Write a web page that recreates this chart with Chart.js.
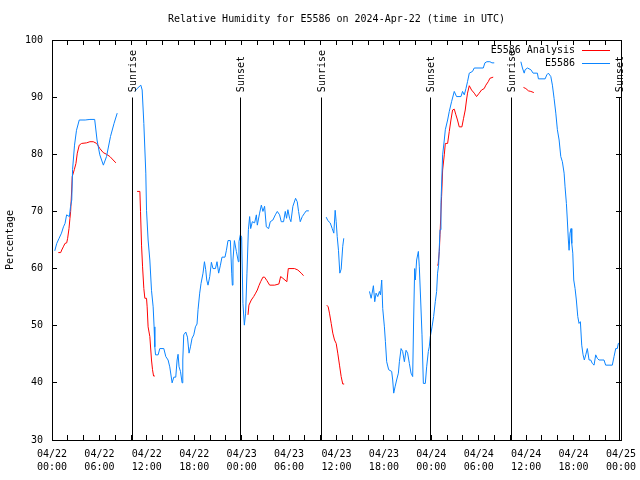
<!DOCTYPE html>
<html>
<head>
<meta charset="utf-8">
<script src="https://cdn.jsdelivr.net/npm/chart.js@4.4.1/dist/chart.umd.min.js"></script>
<style>
  html, body { margin: 0; padding: 0; background: #fff; }
  #wrap { width: 640px; height: 480px; }
</style>
</head>
<body>
<div id="wrap"><canvas id="rhChart" width="640" height="480"></canvas></div>
<script>
// ================== Data (x = hours since 04/22 00:00 UTC) ==================
const obsHours = [
  0.35, 0.6, 0.9, 1.2, 1.45, 1.65, 1.85, 2.2, 2.35, 2.5, 2.6, 2.85, 3.1, 3.45, 4.2, 4.8, 5.4,
  5.7, 6.05, 6.5, 6.9, 7.4, 7.85, 8.25,
  9.3,
  10.48, 10.77, 11.24, 11.41, 11.62, 11.87, 11.96, 12.16, 12.38, 12.59, 12.8, 12.92, 13.01,
  13.1, 13.43, 13.64, 14.15, 14.4, 14.69, 14.9, 15.2, 15.41, 15.66, 15.83, 15.95, 16.08,
  16.26, 16.46, 16.55, 16.67, 16.93, 17.14, 17.34, 17.52, 17.72, 17.94, 18.15, 18.35, 18.48,
  18.69, 18.86, 19.11, 19.29, 19.45, 19.58, 19.74, 19.96, 20.17, 20.37, 20.68, 20.88, 21.09,
  21.31, 21.51, 21.89, 22.07, 22.27, 22.57, 22.74, 22.82, 22.9, 23.08, 23.33, 23.58, 23.66,
  23.83, 24.0, 24.16, 24.34, 24.5, 24.67, 24.85, 25.01, 25.14, 25.35, 25.64, 25.86, 25.98,
  26.27, 26.49, 26.69, 26.9, 27.12, 27.41, 27.62, 27.95, 28.26, 28.51, 28.8, 29.01, 29.3,
  29.52, 29.68, 29.85, 30.06, 30.23, 30.48, 30.82, 31.03, 31.2, 31.41, 31.67, 31.96, 32.17, 32.5,
  33.6,
  34.7, 34.9, 35.2, 35.46, 35.66, 35.83, 35.96, 36.09, 36.25, 36.42, 36.59, 36.79, 36.92,
  38.5,
  40.17, 40.38, 40.51, 40.67, 40.84, 41.01, 41.22, 41.43, 41.56, 41.72, 41.85, 42.06, 42.19,
  42.35, 42.6, 42.98, 43.11, 43.24, 43.41, 43.61, 43.83, 43.96, 44.17, 44.37, 44.59, 44.8,
  45.0, 45.22, 45.43, 45.64, 45.76, 45.89, 45.98, 46.14, 46.36, 46.48, 46.65, 46.82, 46.99,
  47.24, 47.41, 47.62, 47.74, 47.87, 48.09, 48.29, 48.5, 48.67, 48.79, 48.92, 49.01, 49.1,
  49.22, 49.43, 49.64, 49.77, 50.06, 50.27, 50.56, 50.9, 51.19, 51.75, 51.95, 52.17, 52.38,
  52.58, 52.8, 53.21, 53.43, 54.57, 54.78, 55.03, 55.41, 55.67, 55.96,
  57.5,
  59.33, 59.53, 59.75, 59.87, 60.16, 60.59, 60.88, 61.42, 61.55, 62.4, 62.61, 62.81, 63.12,
  63.32, 63.53, 63.75, 63.95, 64.17, 64.38, 64.58, 64.8, 64.92, 65.09, 65.21, 65.34, 65.43,
  65.55, 65.68, 65.77, 65.9, 66.02, 66.19, 66.35, 66.53, 66.69, 66.86, 67.03, 67.2, 67.36,
  67.54, 67.74, 67.96, 68.17, 68.37, 68.59, 68.8, 69.0, 69.22, 69.85, 70.06, 70.9, 71.12,
  71.33, 71.53, 71.66, 71.87
];
const obsValues = [
  63.1, 64.4, 65.3, 66.2, 67.3, 67.9, 69.4, 69.1, 70.9, 72, 77.3, 81.6, 84.2, 86, 86, 86.1, 86.1,
  82.5, 79.9, 78.1, 79.6, 83.1, 85.4, 87.2,
  null,
  91, 91.5, 92.1, 91.25, 85.4, 76.7, 70.2, 65, 61.5, 56.2, 53.3, 49.8, 46.3,
  44.9, 44.9, 46, 46, 44.6, 44, 42.8, 40, 41, 41, 44, 45, 42.8,
  42, 40, 44, 48.4, 48.9, 48, 45.2, 46.3, 47.8, 48.4, 49.8, 50.3, 52.8,
  55.7, 57.4, 59.2, 61.2, 59.8, 58, 57.1, 58.6, 61.1, 60, 60, 61.2, 59.2,
  60.6, 62, 62, 63.2, 64.9, 64.9, 59.2, 57.1, 61.5, 64.9, 63, 61.2, 64.7,
  65.9, 65.5, 53.9, 50.1, 52.2, 59.2, 66.8, 69.1, 67, 68.2, 68, 69.4, 67.6,
  69.7, 71.1, 70, 70.9, 67.3, 67, 68.2, 68.5, 69.4, 70, 69.4, 68.2, 68.2,
  70, 68.8, 70.3, 68.8, 68.2, 70.9, 72.3, 71.7, 70, 68.2, 69.1, 69.7, 70.1, 70.1,
  null,
  69, 68.4, 68, 67, 66.2, 70.2, 68.2, 65.6, 63.2, 59.2, 59.9, 63.9, 65.3,
  null,
  56, 54.8, 55.7, 57, 54.2, 55.7, 55.1, 56, 55.4, 58, 53, 49.8, 47.2,
  43.7, 42.3, 42, 40.5, 38.2, 39.3, 40.5, 41.7, 43.7, 46, 45.5, 43.7, 45.7,
  45.2, 43.4, 41.7, 41.1, 51, 60, 58, 61.5, 63, 60.3, 54.5, 48.4, 39.9,
  39.9, 42.8, 45.5, 46.3, 48.1, 49.8, 51.6, 54.2, 56, 59.2, 60.6, 63.8, 66.8,
  71.5, 79.9, 82.5, 84.3, 86, 87.5, 89.2, 91, 90.1, 90.1, 91, 90.4, 91.5,
  92.7, 94.2, 94.5, 95.1, 95.1, 96, 96.2, 96.2, 96, 96,
  null,
  96.2, 95.1, 94.2, 94.8, 95.1, 94.8, 94.2, 94.2, 93.2, 93.2, 93.9, 94.2, 93.6,
  92.1, 89.8, 87.2, 84.3, 82.5, 79.6, 78.7, 76.7, 74.3, 71.4, 68.5, 65, 63.2,
  66.2, 67, 64.4, 62.7, 58, 56.5, 54.5, 51.6, 50.4, 50.7, 46.6, 44.9, 44,
  44.9, 46, 44, 44, 43.4, 43.1, 44.9, 44.3, 44, 44, 43.1, 43.1, 44.6,
  46, 46, 46.9, 46.9
];

const anaHours = [
  0.8, 1.1, 1.23, 1.43, 1.64, 1.86, 1.98, 2.15, 2.27, 2.36, 2.49, 2.56, 2.82, 3.03, 3.2, 3.45,
  3.75, 4.38, 4.8, 5.22, 5.65, 6.06, 6.48, 6.9, 7.33, 7.74, 8.08,
  9.4,
  10.77, 11.12, 11.2, 11.33, 11.46, 11.62, 11.75, 11.96, 12.04, 12.16, 12.38, 12.59, 12.72,
  12.85, 13.01,
  19.0,
  24.8, 24.92, 25.22, 25.52, 25.77, 25.98, 26.18, 26.4, 26.69, 26.9, 27.19, 27.54, 28.17,
  28.71, 28.93, 29.22, 29.72, 29.9, 30.69, 31.11, 31.54, 31.83,
  33.3,
  34.77, 34.95, 35.11, 35.33, 35.53, 35.75, 35.96, 36.16, 36.38, 36.59, 36.79, 36.97,
  43.0,
  48.75, 48.85, 49.01, 49.1, 49.3, 49.43, 49.64, 49.77, 50.06, 50.27, 50.48, 50.69, 50.9,
  51.11, 51.31, 51.53, 51.87, 52.08, 52.29, 52.45, 52.58, 52.8, 53.09, 53.43, 53.72, 54.06,
  54.35, 54.69, 54.9, 55.2, 55.41, 55.83,
  57.7,
  59.66, 59.96, 60.29, 60.59, 60.97
];
const anaValues = [
  62.8, 62.8, 63.25, 63.8, 64.4, 64.5, 65.3, 67, 68.8, 70, 73.75, 76.1, 77.3, 78.4, 80.2, 81.6,
  81.9, 82, 82.2, 82.2, 81.9, 81, 80.3, 80, 79.6, 79, 78.5,
  null,
  73.5, 73.5, 70, 64.1, 60.3, 56.5, 54.8, 54.8, 53.3, 49.8, 48.1, 44, 42.3,
  41.2, 41.2,
  null,
  51.9, 53.6, 54.5, 55.1, 55.7, 56.25, 57, 57.7, 58.5, 58.5, 57.9, 57.1, 57.1,
  57.3, 58.6, 58.3, 57.7, 60, 60, 59.75, 59.2, 58.75,
  null,
  53.6, 53.3, 52.2, 50.4, 48.7, 47.5, 46.9, 45.2, 43.1, 41.1, 39.8, 39.8,
  null,
  60.6, 60.6, 63, 66, 72.6, 77.25, 79.9, 81.9, 81.9, 84, 86, 87.75, 87.9,
  86.9, 86, 84.8, 84.8, 86.3, 87.75, 89.5, 90.7, 92, 91.25, 90.7, 90.1, 90.7,
  91.25, 91.5, 92.1, 92.7, 93.3, 93.5,
  null,
  91.7, 91.5, 91.1, 91, 90.8
];

const sunHours = [10.13, 23.85, 34.13, 47.85, 58.1, 71.85];
const sunLabels = ["Sunrise", "Sunset", "Sunrise", "Sunset", "Sunrise", "Sunset"];

const xTickHours = [0, 6, 12, 18, 24, 30, 36, 42, 48, 54, 60, 66, 72];
const xTickLabels = [
  ["04/22", "00:00"], ["04/22", "06:00"], ["04/22", "12:00"], ["04/22", "18:00"],
  ["04/23", "00:00"], ["04/23", "06:00"], ["04/23", "12:00"], ["04/23", "18:00"],
  ["04/24", "00:00"], ["04/24", "06:00"], ["04/24", "12:00"], ["04/24", "18:00"],
  ["04/25", "00:00"]
];

const seriesNames = ["E5586 Analysis", "E5586"];
const seriesColors = ["#ff0000", "#0a84ff"];

const FONT = "DejaVu Sans Mono";

// ================== Helpers ==================
const toPoints = (hours, values) => hours.map((h, i) => ({ x: h, y: values[i] }));

// ================== Plugins ==================
// gnuplot-style frame, inward ticks, sunrise/sunset markers and legend
const framePlugin = {
  id: "frame",
  afterDatasetsDraw(chart) {
    const { ctx, chartArea: a, scales } = chart;
    const xs = scales.x;
    const ys = scales.y;
    const px = (v) => Math.floor(v) + 0.5;
    ctx.save();
    ctx.strokeStyle = "#000";
    ctx.lineWidth = 1;

    // sunrise / sunset lines
    const yTop = ys.getPixelForValue(90);
    sunHours.forEach((h, i) => {
      const x = px(xs.getPixelForValue(h));
      ctx.beginPath();
      ctx.moveTo(x, px(yTop));
      ctx.lineTo(x, a.bottom);
      ctx.stroke();
      ctx.save();
      ctx.translate(x + 1, yTop - 5);
      ctx.rotate(-Math.PI / 2);
      ctx.fillStyle = "#000";
      ctx.font = "10px " + FONT;
      ctx.textAlign = "left";
      ctx.textBaseline = "middle";
      ctx.fillText(sunLabels[i], 0, 0);
      ctx.restore();
    });

    // frame
    ctx.strokeRect(px(a.left), px(a.top), Math.floor(a.right) - Math.floor(a.left), Math.floor(a.bottom) - Math.floor(a.top));

    // inward ticks
    const tl = 5;
    ctx.beginPath();
    for (let h = 0; h <= 72; h += 2) {
      const x = px(xs.getPixelForValue(h));
      ctx.moveTo(x, a.bottom);
      ctx.lineTo(x, a.bottom - tl);
      ctx.moveTo(x, a.top);
      ctx.lineTo(x, a.top + tl);
    }
    for (let v = 30; v <= 100; v += 10) {
      const y = px(ys.getPixelForValue(v));
      ctx.moveTo(a.left, y);
      ctx.lineTo(a.left + tl, y);
      ctx.moveTo(a.right, y);
      ctx.lineTo(a.right - tl, y);
    }
    ctx.stroke();

    // legend (top right inside plot)
    ctx.font = "10px " + FONT;
    ctx.textAlign = "right";
    ctx.textBaseline = "middle";
    seriesNames.forEach((name, i) => {
      const y = 50 + i * 13;
      ctx.fillStyle = "#000";
      ctx.fillText(name, 575, y);
      ctx.strokeStyle = seriesColors[i];
      ctx.beginPath();
      ctx.moveTo(582, y + 0.5);
      ctx.lineTo(610, y + 0.5);
      ctx.stroke();
    });
    ctx.restore();
  },
};

// ================== Chart ==================
const ctx = document.getElementById("rhChart").getContext("2d");
const rhChart = new Chart(ctx, {
  type: "line",
  data: {
    datasets: [
      {
        label: seriesNames[1],
        data: toPoints(obsHours, obsValues),
        borderColor: seriesColors[1],
        borderWidth: 1,
        pointRadius: 0,
        spanGaps: false,
        order: 0,
      },
      {
        label: seriesNames[0],
        data: toPoints(anaHours, anaValues),
        borderColor: seriesColors[0],
        borderWidth: 1,
        pointRadius: 0,
        spanGaps: false,
        order: 1,
      },
    ],
  },
  options: {
    responsive: false,
    animation: false,
    layout: { padding: { left: 0, right: 19, top: 0, bottom: 0 } },
    plugins: {
      legend: { display: false },
      tooltip: { enabled: false },
      title: {
        display: true,
        fullSize: false,
        text: "Relative Humidity for E5586 on 2024-Apr-22 (time in UTC)",
        color: "#000",
        font: { family: FONT, size: 10, weight: "normal", lineHeight: 1.2 },
        padding: { top: 13, bottom: 15 },
      },
    },
    scales: {
      x: {
        type: "linear",
        min: 0,
        max: 72,
        grid: { display: false, drawTicks: false },
        border: { display: false },
        afterFit: (scale) => {
          scale.height = 40;
          scale.paddingLeft = 0;
          scale.paddingRight = 0;
        },
        ticks: {
          stepSize: 6,
          autoSkip: false,
          maxRotation: 0,
          padding: 8,
          color: "#000",
          font: { family: FONT, size: 10, lineHeight: 1.3 },
          callback: (value) => {
            const i = xTickHours.indexOf(value);
            return i >= 0 ? xTickLabels[i] : "";
          },
        },
      },
      y: {
        min: 30,
        max: 100,
        grid: { display: false, drawTicks: false },
        border: { display: false },
        afterFit: (scale) => {
          scale.width = 52;
          scale.paddingTop = 0;
          scale.paddingBottom = 0;
        },
        ticks: {
          stepSize: 10,
          padding: 9,
          color: "#000",
          font: { family: FONT, size: 10 },
        },
        title: {
          display: true,
          text: "Percentage",
          color: "#000",
          font: { family: FONT, size: 10, lineHeight: 1.2 },
          padding: { top: 4, bottom: 0 },
        },
      },
    },
  },
  plugins: [framePlugin],
});
</script>
</body>
</html>
